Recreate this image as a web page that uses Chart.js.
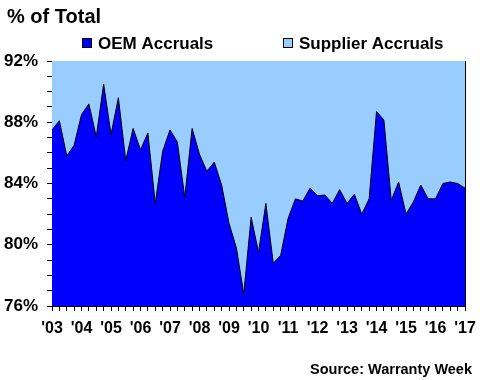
<!DOCTYPE html>
<html>
<head>
<meta charset="utf-8">
<script src="https://cdn.jsdelivr.net/npm/chart.js@4/dist/chart.umd.min.js"></script>
<style>
  html, body { margin: 0; padding: 0; background: #fff; }
  #wrap { width: 480px; height: 380px; }
</style>
</head>
<body>
<div id="wrap"><canvas id="accrualChart" width="480" height="380"></canvas></div>
<script>
// quarterly, 2003 Q1 .. 2017 Q1
const quarters = [
  '2003Q1','2003Q2','2003Q3','2003Q4','2004Q1','2004Q2','2004Q3','2004Q4',
  '2005Q1','2005Q2','2005Q3','2005Q4','2006Q1','2006Q2','2006Q3','2006Q4',
  '2007Q1','2007Q2','2007Q3','2007Q4','2008Q1','2008Q2','2008Q3','2008Q4',
  '2009Q1','2009Q2','2009Q3','2009Q4','2010Q1','2010Q2','2010Q3','2010Q4',
  '2011Q1','2011Q2','2011Q3','2011Q4','2012Q1','2012Q2','2012Q3','2012Q4',
  '2013Q1','2013Q2','2013Q3','2013Q4','2014Q1','2014Q2','2014Q3','2014Q4',
  '2015Q1','2015Q2','2015Q3','2015Q4','2016Q1','2016Q2','2016Q3','2016Q4',
  '2017Q1'
];
const yearLabels = ["'03","'04","'05","'06","'07","'08","'09","'10","'11","'12","'13","'14","'15","'16","'17"];

// OEM share of total accruals (%)
const oemShare = [
  87.5, 88.1, 85.8, 86.5, 88.5, 89.2, 87.05, 90.5,
  87.2, 89.6, 85.5, 87.6, 86.2, 87.3, 82.7, 86.1,
  87.5, 86.7, 83.1, 87.6, 85.9, 84.8, 85.4, 83.9,
  81.4, 79.8, 76.8, 81.8, 79.5, 82.7, 78.8, 79.3,
  81.7, 83.0, 82.85, 83.7, 83.2, 83.25, 82.7, 83.6,
  82.7, 83.3, 82.0, 83.0, 88.7, 88.15, 82.9, 84.1,
  82.0, 82.8, 83.9, 83.0, 83.0, 84.0, 84.1, 84.0,
  83.7
];
// suppliers hold the rest of the 100%
const supplierShare = oemShare.map(v => +(100 - v).toFixed(2));

const yTicks = [76, 80, 84, 88, 92];

const FONT = '"Liberation Sans", Arial, sans-serif';

const headerFooter = {
  id: 'headerFooter',
  afterDraw(chart) {
    const c = chart.ctx;
    const area = chart.chartArea;
    c.save();
    // right edge of the plot frame
    c.strokeStyle = '#000';
    c.lineWidth = 1;
    c.beginPath();
    c.moveTo(Math.round(area.right) + 0.5, area.top);
    c.lineTo(Math.round(area.right) + 0.5, area.bottom);
    c.stroke();

    c.fillStyle = '#000';
    c.textBaseline = 'alphabetic';
    c.textAlign = 'left';
    c.font = 'bold 20px ' + FONT;
    c.fillText('% of Total', 7, 23);

    // legend
    c.font = 'bold 17px ' + FONT;
    const items = [
      { ds: chart.data.datasets[0], x: 82 },
      { ds: chart.data.datasets[1], x: 283 }
    ];
    items.forEach(it => {
      c.fillStyle = it.ds.backgroundColor;
      c.fillRect(it.x, 38, 10, 10);
      c.strokeRect(it.x + 0.5, 38.5, 9, 9);
      c.fillStyle = '#000';
      c.fillText(it.ds.label, it.x + 16, 49);
    });

    c.textAlign = 'right';
    c.font = 'bold 14.5px ' + FONT;
    c.fillText('Source: Warranty Week', 472, 374);
    c.restore();
  }
};

const ctx = document.getElementById('accrualChart').getContext('2d');
const myChart = new Chart(ctx, {
  type: 'line',
  data: {
    labels: quarters,
    datasets: [{
      label: 'OEM Accruals',
      data: oemShare,
      backgroundColor: '#0000FF',
      borderColor: '#000000',
      borderWidth: 1,
      fill: 'start',
      pointRadius: 0,
      tension: 0
    }, {
      label: 'Supplier Accruals',
      data: supplierShare,
      backgroundColor: '#99CCFF',
      borderColor: '#99CCFF',
      borderWidth: 0,
      fill: '-1',
      pointRadius: 0,
      tension: 0
    }]
  },
  options: {
    responsive: false,
    animation: false,
    devicePixelRatio: 1,
    layout: { padding: { top: 61, right: 15, bottom: 0, left: 0 } },
    plugins: {
      legend: { display: false },
      title: { display: false },
      tooltip: { enabled: false }
    },
    scales: {
      x: {
        stacked: true,
        offset: false,
        grid: {
          drawOnChartArea: false,
          drawTicks: true,
          tickLength: 5,
          color: '#000'
        },
        border: { display: true, color: '#000', width: 1 },
        ticks: {
          autoSkip: false,
          maxRotation: 0,
          padding: 8,
          color: '#000',
          font: { family: FONT, size: 16, weight: 'bold' },
          callback: (val, i) => (i % 4 === 0 ? yearLabels[i / 4] : '')
        },
        afterFit: (scale) => {
          scale.height = 74;
          scale.paddingLeft = 0;
          scale.paddingRight = 0;
        }
      },
      y: {
        stacked: true,
        min: 76,
        max: 92,
        grid: {
          drawOnChartArea: false,
          drawTicks: true,
          tickLength: 5,
          color: '#000'
        },
        border: { display: true, color: '#000', width: 1 },
        ticks: {
          stepSize: 1,
          autoSkip: false,
          padding: 9,
          color: '#000',
          font: { family: FONT, size: 17, weight: 'bold' },
          callback: (v) => (yTicks.includes(v) ? v + '%' : '')
        },
        afterFit: (scale) => { scale.width = 52; }
      }
    }
  },
  plugins: [headerFooter]
});
</script>
</body>
</html>
